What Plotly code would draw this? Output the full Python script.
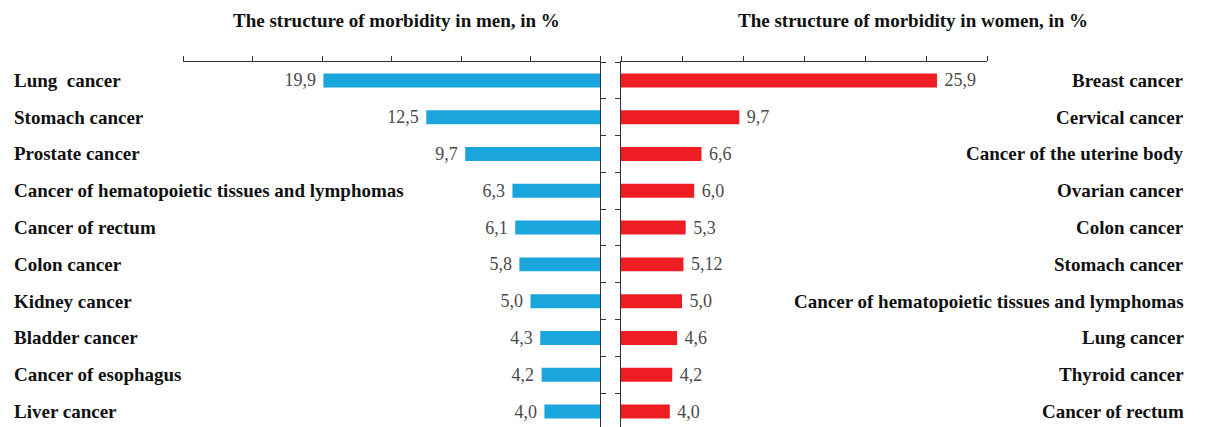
import plotly.graph_objects as go

men_categories = ["Lung  cancer", "Stomach cancer", "Prostate cancer",
                  "Cancer of hematopoietic tissues and lymphomas", "Cancer of rectum",
                  "Colon cancer", "Kidney cancer", "Bladder cancer",
                  "Cancer of esophagus", "Liver cancer"]
men_values = [19.9, 12.5, 9.7, 6.3, 6.1, 5.8, 5.0, 4.3, 4.2, 4.0]

women_categories = ["Breast cancer", "Cervical cancer", "Cancer of the uterine body",
                    "Ovarian cancer", "Colon cancer", "Stomach cancer",
                    "Cancer of hematopoietic tissues and lymphomas", "Lung cancer",
                    "Thyroid cancer", "Cancer of rectum"]
women_values = [25.9, 9.7, 6.6, 6.0, 5.3, 5.12, 5.0, 4.6, 4.2, 4.0]

men_title = "The structure of morbidity in men, in %"
women_title = "The structure of morbidity in women, in %"

W, H = 1211, 427
SERIF = "Liberation Serif, Times New Roman, serif"
NBSP = "\u00a0"

def fmt(v):
    return str(v).replace(".", ",")

fig = go.Figure()
fig.add_trace(go.Bar(
    y=men_categories, x=men_values, orientation="h",
    xaxis="x", yaxis="y",
    marker=dict(color="#1AA6DD", line=dict(width=0)),
    text=[fmt(v) + NBSP for v in men_values], textposition="outside",
    constraintext="none",
    textfont=dict(family=SERIF, size=18, color="#4a4a4a"),
    cliponaxis=False, showlegend=False,
))
fig.add_trace(go.Bar(
    y=women_categories, x=women_values, orientation="h",
    xaxis="x2", yaxis="y2",
    marker=dict(color="#EE1D24", line=dict(width=0)),
    text=[NBSP + fmt(v) for v in women_values], textposition="outside",
    constraintext="none",
    textfont=dict(family=SERIF, size=18, color="#4a4a4a"),
    cliponaxis=False, showlegend=False,
))

top = (H - 62) / H
yrange = [9.42, -0.5]

xcommon = dict(side="top", showline=True, linecolor="#333333", linewidth=1,
               ticks="outside", ticklen=5, tickcolor="#333333", dtick=5,
               showticklabels=False, showgrid=False, zeroline=False, fixedrange=True)
ycommon = dict(showline=True, linecolor="#333333", linewidth=1, ticks="outside",
               ticklen=5, tickcolor="#333333", tickson="boundaries",
               showticklabels=False, showgrid=False, zeroline=False,
               range=yrange, domain=[0, top], type="category")

fig.update_layout(
    width=W, height=H,
    margin=dict(l=0, r=0, t=0, b=0),
    paper_bgcolor="white", plot_bgcolor="white",
    bargap=0.62,
    xaxis=dict(domain=[183 / W, 600 / W], range=[30, 0], anchor="y", **xcommon),
    xaxis2=dict(domain=[621 / W, 987 / W], range=[0, 30], anchor="y2", **xcommon),
    yaxis=dict(anchor="x", side="right", categoryorder="array",
               categoryarray=men_categories, **ycommon),
    yaxis2=dict(anchor="x2", side="left", categoryorder="array",
                categoryarray=women_categories, **ycommon),
)

anns = [
    dict(text="<b>" + men_title + "</b>", x=396 / W, y=(H - 20) / H,
         xref="paper", yref="paper", xanchor="center", yanchor="middle", showarrow=False,
         font=dict(family=SERIF, size=19, color="#111111")),
    dict(text="<b>" + women_title + "</b>", x=913 / W, y=(H - 20) / H,
         xref="paper", yref="paper", xanchor="center", yanchor="middle", showarrow=False,
         font=dict(family=SERIF, size=19, color="#111111")),
]
for c in men_categories:
    anns.append(dict(text="<b>" + c + "</b>", x=12 / W, xref="paper", xanchor="left",
                     y=c, yref="y", yanchor="middle", showarrow=False,
                     font=dict(family=SERIF, size=19, color="#111111")))
for c in women_categories:
    anns.append(dict(text="<b>" + c + "</b>", x=1186 / W, xref="paper", xanchor="right",
                     y=c, yref="y2", yanchor="middle", showarrow=False,
                     font=dict(family=SERIF, size=19, color="#111111")))
fig.update_layout(annotations=anns)

fig.write_html("out.html", config={"displayModeBar": False},
               post_script="document.body.style.margin='0px';document.body.style.overflow='hidden';")
